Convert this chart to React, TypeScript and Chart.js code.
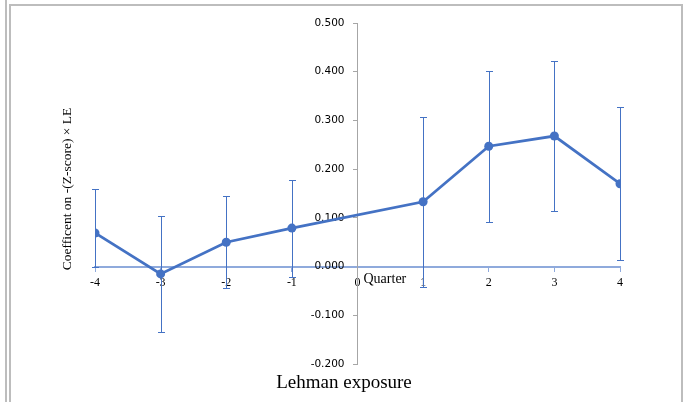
import React, { useEffect, useRef } from 'react';
import { Chart, registerables } from 'chart.js';

Chart.register(...registerables);

const quarters = [-4, -3, -2, -1, 1, 2, 3, 4];
const coefficients = [0.069, -0.015, 0.05, 0.079, 0.133, 0.247, 0.268, 0.17];
const upperBounds = [0.16, 0.104, 0.145, 0.178, 0.307, 0.401, 0.421, 0.327];
const lowerBounds = [-0.001, -0.134, -0.044, -0.021, -0.042, 0.092, 0.114, 0.014];
const xTickValues = [-4, -3, -2, -1, 0, 1, 2, 3, 4];
const yTickValues = [-0.2, -0.1, 0, 0.1, 0.2, 0.3, 0.4, 0.5];
const chartTitle = 'Lehman exposure';
const yAxisTitle = 'Coefficent on -(Z-score) × LE';
const xAxisTitle = 'Quarter';

const SERIES = '#4472C4';
const XAXIS = '#8FAADC';
const YAXIS = '#A6A6A6';
const Y_LABEL_GAP = 13;

const errorBarPlugin = {
  id: 'errorBars',
  beforeDatasetsDraw(chart: any) {
    const { ctx, scales } = chart;
    const x = scales.x;
    const y = scales.y;
    ctx.save();
    ctx.strokeStyle = SERIES;
    ctx.lineWidth = 1;
    quarters.forEach((q, i) => {
      const px = Math.round(x.getPixelForValue(q)) + 0.5;
      const top = Math.round(y.getPixelForValue(upperBounds[i])) + 0.5;
      const bot = Math.round(y.getPixelForValue(lowerBounds[i])) + 0.5;
      ctx.beginPath();
      ctx.moveTo(px, top);
      ctx.lineTo(px, bot);
      ctx.moveTo(px - 3.5, top);
      ctx.lineTo(px + 3.5, top);
      ctx.moveTo(px - 3.5, bot);
      ctx.lineTo(px + 3.5, bot);
      ctx.stroke();
    });
    ctx.restore();
  },
};

// Move the y-axis tick labels (drawn by the library) to the left of the crossing axis.
const yLabelShiftPlugin = {
  id: 'yLabelShift',
  beforeDraw(chart: any) {
    const y = chart.scales.y;
    const items = y.getLabelItems(chart.chartArea);
    if (!(items as any)._shifted) {
      items.forEach((it: any) => {
        it.options.translation[0] -= Y_LABEL_GAP;
      });
      (items as any)._shifted = true;
    }
  },
};

const axisTextPlugin = {
  id: 'axisTexts',
  afterDraw(chart: any) {
    const { ctx, scales, chartArea, width } = chart;
    const x = scales.x;
    const y = scales.y;
    ctx.save();
    ctx.fillStyle = '#000';
    ctx.font = '14px "Liberation Serif"';
    ctx.textAlign = 'left';
    ctx.textBaseline = 'middle';
    ctx.fillText(xAxisTitle, x.getPixelForValue(0) + 6, y.getPixelForValue(0) + 13);
    ctx.font = '19px "Liberation Serif"';
    ctx.textAlign = 'center';
    ctx.fillText(chartTitle, width / 2 + 1, chartArea.bottom + 19);
    ctx.translate(chartArea.left - 28, chartArea.top + 166);
    ctx.rotate(-Math.PI / 2);
    ctx.font = '13.5px "Liberation Serif"';
    ctx.fillText(yAxisTitle, 0, 0);
    ctx.restore();
  },
};

export default function App() {
  const canvasRef = useRef<HTMLCanvasElement | null>(null);

  useEffect(() => {
    if (!canvasRef.current) return;
    const chart = new Chart(canvasRef.current, {
      type: 'line',
      data: {
        datasets: [
          {
            data: quarters.map((q, i) => ({ x: q, y: coefficients[i] })),
            borderColor: SERIES,
            backgroundColor: SERIES,
            borderWidth: 2.75,
            pointRadius: 4.5,
            pointBorderWidth: 0,
            pointBackgroundColor: SERIES,
            tension: 0,
          },
        ],
      },
      options: {
        animation: false,
        responsive: false,
        devicePixelRatio: 1,
        layout: { padding: { left: 95, right: 66, top: 23, bottom: 38 } },
        plugins: {
          legend: { display: false },
          tooltip: { enabled: false },
          title: { display: false },
        },
        scales: {
          x: {
            type: 'linear',
            position: { y: 0 } as any,
            min: -4,
            max: 4,
            afterBuildTicks: (axis: any) => {
              axis.ticks = xTickValues.map((v) => ({ value: v }));
            },
            ticks: {
              color: '#000',
              font: { family: '"Liberation Serif"', size: 12 },
              padding: 5,
              callback: (v: any) => String(v),
            },
            grid: { drawOnChartArea: false, drawTicks: true, tickLength: 4, color: XAXIS, lineWidth: 1 },
            border: { color: XAXIS, width: 2 },
          },
          y: {
            type: 'linear',
            position: { x: 0 } as any,
            min: -0.2,
            max: 0.5,
            afterBuildTicks: (axis: any) => {
              axis.ticks = yTickValues.map((v) => ({ value: v }));
            },
            ticks: {
              color: '#000',
              font: { family: '"DejaVu Sans"', size: 10.5 },
              padding: 10,
              callback: (v: any) => Number(v).toFixed(3),
            },
            grid: { drawOnChartArea: false, drawTicks: true, tickLength: 4, color: YAXIS, lineWidth: 1 },
            border: { color: YAXIS, width: 1 },
          },
        },
      },
      plugins: [errorBarPlugin, yLabelShiftPlugin, axisTextPlugin],
    });
    return () => chart.destroy();
  }, []);

  const line = '2px solid #BDBDBD';
  return (
    <div style={{ position: 'fixed', left: 0, top: 0, width: 686, height: 402, background: '#fff' }}>
      <canvas ref={canvasRef} width={686} height={402} style={{ position: 'absolute', left: 0, top: 0 }} />
      <div style={{ position: 'absolute', left: 5, top: 0, width: 0, height: 402, borderLeft: line, pointerEvents: 'none' }} />
      <div
        style={{
          position: 'absolute',
          left: 9,
          top: 4,
          width: 674,
          height: 402,
          borderLeft: line,
          borderTop: line,
          borderRight: line,
          boxSizing: 'border-box',
          pointerEvents: 'none',
        }}
      />
    </div>
  );
}
